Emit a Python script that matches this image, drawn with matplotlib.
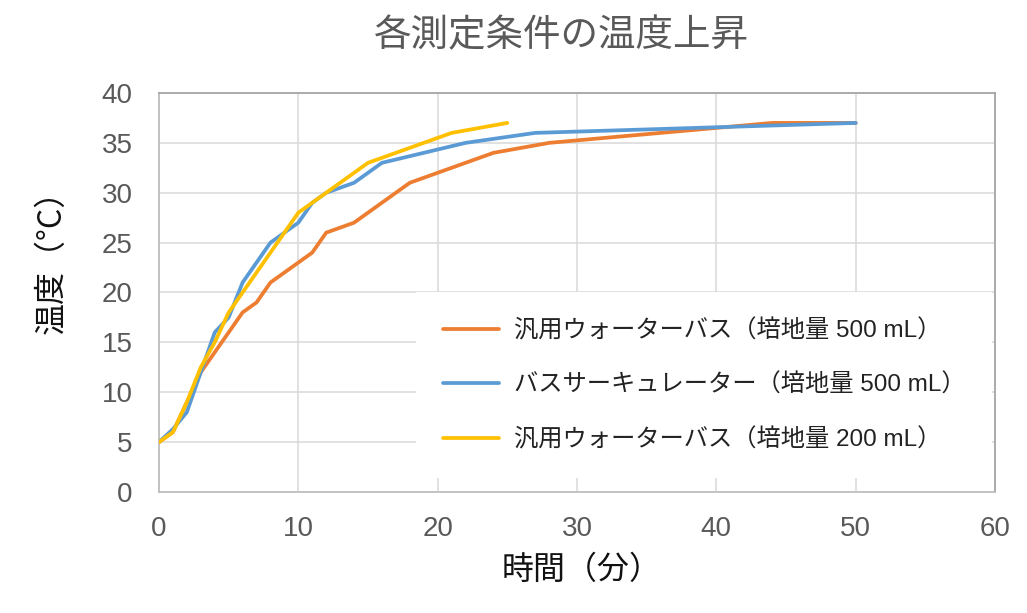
import matplotlib
matplotlib.use('Agg')
import matplotlib.pyplot as plt

# 時間（分）と温度（°C）の読み取り値
wb500_x = [0, 1, 2, 3, 4, 5, 6, 7, 8, 10, 11, 12, 14, 18, 24, 28, 44, 50]
wb500_y = [5, 6, 9, 12, 14, 16, 18, 19, 21, 23, 24, 26, 27, 31, 34, 35, 37, 37]

circ500_x = [0, 1, 2, 4, 5, 6, 8, 10, 11, 12, 14, 16, 22, 27, 50]
circ500_y = [5, 6.3, 8, 16, 17.5, 21, 25, 27, 29, 30, 31, 33, 35, 36, 37]

wb200_x = [0, 1, 2, 3, 4, 5, 6, 8, 10, 12, 15, 21, 25]
wb200_y = [5, 6, 9, 12.5, 15, 18, 20, 24, 28, 30, 33, 36, 37]

labels = ['汎用ウォーターバス（培地量 500 mL）',
          'バスサーキュレーター（培地量 500 mL）',
          '汎用ウォーターバス（培地量 200 mL）']
colors = ['#ED7D31', '#5B9BD5', '#FFC000']

jp = ['Noto Sans CJK JP', 'DejaVu Sans']
mixed = ['Liberation Sans', 'Noto Sans CJK JP', 'DejaVu Sans']

fig = plt.figure(figsize=(10.27, 6.13), dpi=100)
ax = fig.add_axes([0.1548, 0.1974, 0.8141, 0.6509])

series = [(wb500_x, wb500_y), (circ500_x, circ500_y), (wb200_x, wb200_y)]
for (x, y), lab, c in zip(series, labels, colors):
    ax.plot(x, y, color=c, lw=2.7, label=lab,
            solid_joinstyle='round', solid_capstyle='round', zorder=3)

ax.set_xlim(0, 60)
ax.set_ylim(0, 40)
ax.set_xticks(range(0, 61, 10))
ax.set_yticks(range(0, 41, 5))
ax.grid(True, color='#D9D9D9', lw=1.1)
ax.set_axisbelow(True)

for side in ['left', 'bottom']:
    ax.spines[side].set_color('#BFBFBF')
for side in ['top', 'right']:
    ax.spines[side].set_color('#A6A6A6')
for s in ax.spines.values():
    s.set_linewidth(1.3)

ax.tick_params(axis='both', length=0, labelsize=20, labelcolor='#595959')
ax.tick_params(axis='y', pad=19)
ax.tick_params(axis='x', pad=17)
for t in ax.get_xticklabels() + ax.get_yticklabels():
    t.set_family(mixed)

fig.text(0.547, 0.941, '各測定条件の温度上昇', ha='center', va='center',
         fontsize=27, color='#595959', family=jp)
fig.text(0.566, 0.071, '時間（分）', ha='center', va='center',
         fontsize=23, color='#111111', family=jp)
fig.text(0.050, 0.586, '温度（°C）', ha='center', va='center', rotation=90,
         fontsize=23, color='#111111', family=jp)

leg = ax.legend(loc='center', bbox_to_anchor=(0.652, 0.268), frameon=True,
                fancybox=False, edgecolor='none', facecolor='white', framealpha=1,
                prop={'family': mixed, 'size': 17.5}, handlelength=2.3,
                handletextpad=0.6, labelspacing=1.28, borderpad=1.1)
for t in leg.get_texts():
    t.set_color('#222222')

fig.savefig('out.png', dpi=100)
